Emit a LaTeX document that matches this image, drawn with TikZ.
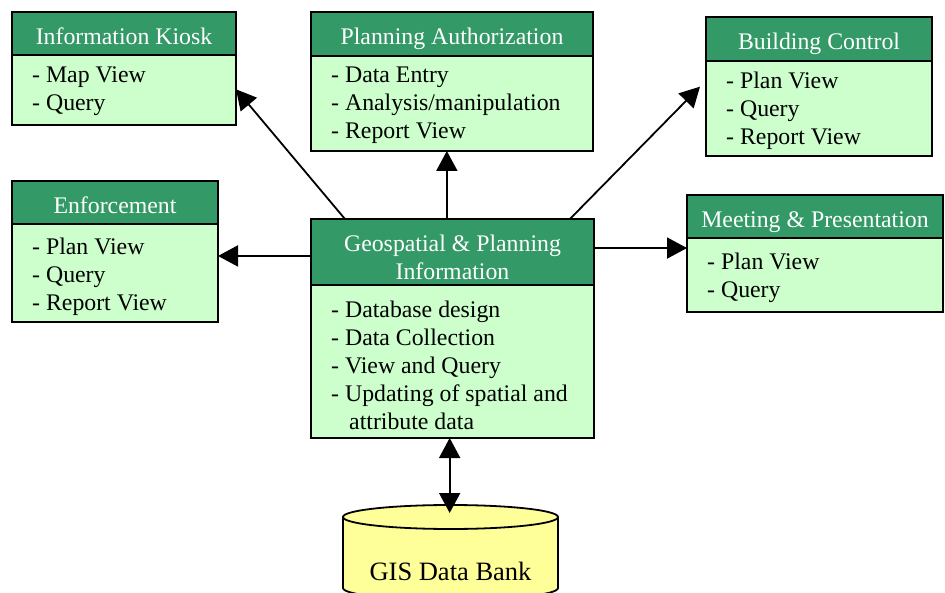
\documentclass[tikz,border=0pt]{standalone}
\usepackage{fontspec}
\setmainfont{Liberation Serif}
\usetikzlibrary{arrows.meta,calc}
\definecolor{hdrgreen}{HTML}{339966}
\definecolor{bodygreen}{HTML}{CCFFCC}
\definecolor{dbyellow}{HTML}{FFFF99}
\newcommand\diafont{\fontsize{23.8}{28}\selectfont}
\tikzset{
  hdrbox/.style={draw=black, line width=1.8pt, fill=hdrgreen, inner sep=0pt, outer sep=0pt, anchor=north west},
  bodybox/.style={draw=black, line width=1.8pt, fill=bodygreen, inner sep=0pt, outer sep=0pt, anchor=north west},
  hdrtext/.style={text=white, font=\diafont, anchor=base, inner sep=0pt},
  bodytext/.style={text=black, font=\diafont, anchor=base west, inner sep=0pt},
  link/.style={line width=1.8pt, -{Triangle[length=20pt,width=21pt]}},
  dlink/.style={line width=1.8pt, {Triangle[length=20pt,width=21pt]}-{Triangle[length=20pt,width=21pt]}},
}
% #1 name, #2 x1, #3 y1, #4 x2, #5 header bottom, #6 y2, #7 first body baseline, #8 titles, #9 body lines
\newcommand\diabox[9]{%
  \node[hdrbox, minimum width={#4pt-#2pt}, minimum height={#5pt-#3pt}] (#1-h) at (#2,#3) {};
  \node[bodybox, minimum width={#4pt-#2pt}, minimum height={#6pt-#5pt}] (#1-b) at (#2,#5) {};
  \foreach \t [count=\i] in {#8} {\node[hdrtext] (#1-t\i) at ({(#2+#4)/2},{#3+33+28*(\i-1)}) {\t};}
  \foreach \t [count=\i] in {#9} {\node[bodytext] (#1-l\i) at ({#2+20},{#7+27.8*(\i-1)}) {\t};}
}
\begin{document}
\begin{tikzpicture}[x=1pt,y=-1pt]
\useasboundingbox (0,0) rectangle (945,593);
\clip (0,0) rectangle (945,593);
\fill[white] (0,0) rectangle (945,593);

\diabox{kiosk}{12}{12}{236}{55}{125}{83}{Information Kiosk}{- Map View,- Query}
\diabox{plan}{311}{12}{593}{56}{151}{83}{Planning Authorization}{- Data Entry,- Analysis/manipulation,- Report View}
\diabox{bc}{706}{17}{932}{61}{156}{89}{Building Control}{- Plan View,- Query,- Report View}
\diabox{enf}{12}{181}{218}{224}{322}{255}{Enforcement}{- Plan View,- Query,- Report View}
\diabox{meet}{687}{195}{943}{238}{312}{270}{Meeting \& Presentation}{- Plan View,- Query}
\diabox{geo}{311}{219}{594}{285}{438}{318}{Geospatial \& Planning,Information}{- Database design,- Data Collection,- View and Query,- Updating of spatial and,\hspace{18pt}attribute data}

% database cylinder
\filldraw[fill=dbyellow, draw=black, line width=1.8pt]
  (343,517) -- (343,588) arc[start angle=180, end angle=360, x radius=107.5pt, y radius=12pt]
  -- (558,517) arc[start angle=0, end angle=180, x radius=107.5pt, y radius=12pt] -- cycle;
\draw[line width=1.8pt] (343,517) arc[start angle=180, end angle=360, x radius=107.5pt, y radius=12pt];
\node[font=\fontsize{26.5}{30}\selectfont, anchor=base, inner sep=0pt] (db) at (450.5,580) {GIS Data Bank};
\coordinate (dbtop) at (450,513);

% connectors
\coordinate (gK) at ($(geo-h.north west)!0.12!(geo-h.north east)$);
\coordinate (gP) at ($(geo-h.north west)!0.48!(geo-h.north east)$);
\coordinate (gB) at ($(geo-h.north west)!0.915!(geo-h.north east)$);
\coordinate (gE) at ($(geo-h.north west)!0.56!(geo-h.south west)$);
\coordinate (gM) at ($(geo-h.north east)!0.44!(geo-h.south east)$);
\coordinate (gD) at ($(geo-b.south west)!0.49!(geo-b.south east)$);
\coordinate (kT) at ($(kiosk-b.north east)!0.49!(kiosk-b.south east)$);
\coordinate (bT) at ([xshift=-6pt]$(bc-b.north west)!0.27!(bc-b.south west)$);

\draw[link] (gK) -- (kT);
\draw[link] (gP) -- (gP |- plan-b.south);
\draw[link] (gB) -- (bT);
\draw[link] (gE) -- (gE -| enf-b.east);
\draw[link] (gM) -- (gM -| meet-b.west);
\draw[dlink] (gD) -- (gD |- dbtop);
\end{tikzpicture}
\end{document}
